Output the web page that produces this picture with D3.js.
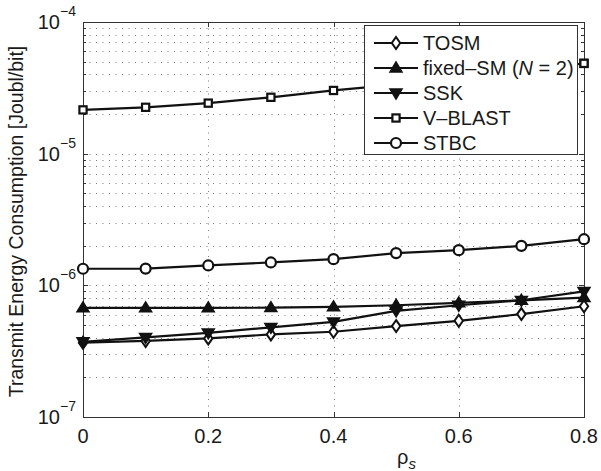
<!DOCTYPE html>
<html><head><meta charset="utf-8">
<script src="https://cdn.jsdelivr.net/npm/d3@7"></script>
<style>
html,body{margin:0;padding:0;background:#fff;}
svg{display:block;font-family:"Liberation Sans",Arial,Helvetica,sans-serif;}
</style></head>
<body>
<svg id="c" width="601" height="471"></svg>
<script>
const rho = [0, 0.1, 0.2, 0.3, 0.4, 0.5, 0.6, 0.7, 0.8];
const tosm    = [3.67e-7, 3.78e-7, 3.95e-7, 4.24e-7, 4.44e-7, 4.9e-7, 5.38e-7, 6.05e-7, 6.94e-7];
const fixedSM = [6.74e-7, 6.74e-7, 6.74e-7, 6.76e-7, 6.85e-7, 7.06e-7, 7.35e-7, 7.7e-7, 8.07e-7];
const ssk     = [3.73e-7, 4.02e-7, 4.36e-7, 4.79e-7, 5.28e-7, 6.4e-7, 7.06e-7, 7.7e-7, 9.0e-7];
const vblast  = [2.15e-5, 2.25e-5, 2.42e-5, 2.68e-5, 3.02e-5, 3.35e-5, 3.75e-5, 4.25e-5, 4.85e-5];
const stbc    = [1.336e-6, 1.34e-6, 1.416e-6, 1.492e-6, 1.58e-6, 1.755e-6, 1.85e-6, 1.994e-6, 2.24e-6];
const xTicks = [0, 0.2, 0.4, 0.6, 0.8];
const xTickLabels = ["0", "0.2", "0.4", "0.6", "0.8"];
const yDecades = [-7, -6, -5, -4];
const seriesNames = ["TOSM", "fixed–SM", "SSK", "V–BLAST", "STBC"];

const series = [
  {name: seriesNames[0], values: tosm, marker: "diamond"},
  {name: seriesNames[1], values: fixedSM, marker: "triUp"},
  {name: seriesNames[2], values: ssk, marker: "triDown"},
  {name: seriesNames[3], values: vblast, marker: "square"},
  {name: seriesNames[4], values: stbc, marker: "circle"}
];

const L = 83, R = 584, T = 22, B = 417;
const svg = d3.select("#c");
const x = d3.scaleLinear().domain([0, 0.8]).range([L, R]);
const y = d3.scaleLog().domain([1e-7, 1e-4]).range([B, T]);

const minorVals = [];
for (let d = -7; d < -4; d++) for (let k = 2; k <= 9; k++) minorVals.push(k * Math.pow(10, d));
const majorVals = yDecades.map(d => Math.pow(10, d));

const grid = svg.append("g").attr("stroke", "#7a7a7a").attr("stroke-width", 1).attr("stroke-dasharray", "1,5.5");
minorVals.concat(majorVals.slice(1, 3)).forEach(v => {
  const yy = Math.round(y(v)) + 0.5;
  grid.append("line").attr("x1", L).attr("x2", R).attr("y1", yy).attr("y2", yy);
});
xTicks.slice(1, 4).forEach(v => {
  const xx = Math.round(x(v)) + 0.5;
  grid.append("line").attr("x1", xx).attr("x2", xx).attr("y1", T).attr("y2", B);
});

const ax = svg.append("g").attr("stroke", "#333").attr("stroke-width", 1).attr("fill", "none");
ax.append("rect").attr("x", L + 0.5).attr("y", T + 0.5).attr("width", R - L).attr("height", B - T);
xTicks.forEach(v => {
  const xx = Math.round(x(v)) + 0.5;
  ax.append("line").attr("x1", xx).attr("x2", xx).attr("y1", B).attr("y2", B - 5);
  ax.append("line").attr("x1", xx).attr("x2", xx).attr("y1", T).attr("y2", T + 5);
});
majorVals.forEach(v => {
  const yy = Math.round(y(v)) + 0.5;
  ax.append("line").attr("x1", L).attr("x2", L + 5).attr("y1", yy).attr("y2", yy);
  ax.append("line").attr("x1", R).attr("x2", R - 5).attr("y1", yy).attr("y2", yy);
});
minorVals.forEach(v => {
  const yy = Math.round(y(v)) + 0.5;
  ax.append("line").attr("x1", L).attr("x2", L + 3).attr("y1", yy).attr("y2", yy);
  ax.append("line").attr("x1", R).attr("x2", R - 3).attr("y1", yy).attr("y2", yy);
});

const fs = 20;
xTicks.forEach((v, i) => {
  svg.append("text").attr("x", x(v)).attr("y", 443).attr("text-anchor", "middle")
    .attr("font-size", fs).attr("fill", "#1a1a1a").text(xTickLabels[i]);
});
yDecades.forEach(d => {
  svg.append("text").attr("x", 60).attr("y", y(Math.pow(10, d)) + 7)
    .attr("text-anchor", "end").attr("font-size", fs).attr("fill", "#1a1a1a").text("10");
  svg.append("text").attr("x", 60).attr("y", y(Math.pow(10, d)) - 6)
    .attr("font-size", 14).attr("fill", "#1a1a1a").text("−" + (-d));
});

svg.append("text").attr("transform", "translate(23," + ((T + B) / 2 + 2) + ") rotate(-90)")
  .attr("text-anchor", "middle").attr("font-size", 19.5).attr("fill", "#1a1a1a")
  .text("Transmit Energy Consumption [Joubl/bit]");
const xl = svg.append("text").attr("x", 397).attr("y", 464).attr("font-size", fs).attr("fill", "#1a1a1a");
xl.append("tspan").text("ρ");
xl.append("tspan").attr("dy", 5).attr("font-size", 15).attr("font-style", "italic").text("s");

function drawMarker(g, type, cx, cy) {
  if (type === "diamond") {
    const s = 6;
    g.append("path").attr("d", `M${cx},${cy - s}L${cx + s * 0.7},${cy}L${cx},${cy + s}L${cx - s * 0.7},${cy}Z`)
      .attr("fill", "#fff").attr("stroke", "#111").attr("stroke-width", 2);
  } else if (type === "triUp") {
    const s = 6;
    g.append("path").attr("d", `M${cx},${cy - s}L${cx + s},${cy + s * 0.65}L${cx - s},${cy + s * 0.65}Z`)
      .attr("fill", "#111").attr("stroke", "#111").attr("stroke-width", 1.5);
  } else if (type === "triDown") {
    const s = 6;
    g.append("path").attr("d", `M${cx},${cy + s}L${cx + s},${cy - s * 0.65}L${cx - s},${cy - s * 0.65}Z`)
      .attr("fill", "#111").attr("stroke", "#111").attr("stroke-width", 1.5);
  } else if (type === "square") {
    const s = 3.6;
    g.append("rect").attr("x", cx - s).attr("y", cy - s).attr("width", 2 * s).attr("height", 2 * s)
      .attr("fill", "#fff").attr("stroke", "#111").attr("stroke-width", 2.2);
  } else if (type === "circle") {
    g.append("circle").attr("cx", cx).attr("cy", cy).attr("r", 5)
      .attr("fill", "#fff").attr("stroke", "#111").attr("stroke-width", 2.2);
  }
}

const line = d3.line().x((d, i) => x(rho[i])).y(d => y(d));
const plot = svg.append("g");
series.forEach(s => {
  plot.append("path").datum(s.values).attr("d", line).attr("fill", "none")
    .attr("stroke", "#111").attr("stroke-width", 2.2);
});
series.forEach(s => {
  s.values.forEach((v, i) => drawMarker(plot, s.marker, x(rho[i]), y(v)));
});

const lg = svg.append("g");
lg.append("rect").attr("x", 364.5).attr("y", 25.5).attr("width", 213).attr("height", 129)
  .attr("fill", "#fff").attr("stroke", "#333").attr("stroke-width", 1);
series.forEach((s, i) => {
  const yy = 43 + i * 25;
  lg.append("line").attr("x1", 374).attr("x2", 418).attr("y1", yy).attr("y2", yy)
    .attr("stroke", "#111").attr("stroke-width", 2.2);
  drawMarker(lg, s.marker, 396, yy);
  const t = lg.append("text").attr("x", 423).attr("y", yy + 7).attr("font-size", fs).attr("fill", "#1a1a1a");
  if (i === 1) {
    t.append("tspan").text(s.name + " (");
    t.append("tspan").attr("font-style", "italic").text("N");
    t.append("tspan").text(" = 2)");
  } else {
    t.text(s.name);
  }
});
drawMarker(svg, "square", x(rho[8]), y(vblast[8]));
</script>
</body></html>
